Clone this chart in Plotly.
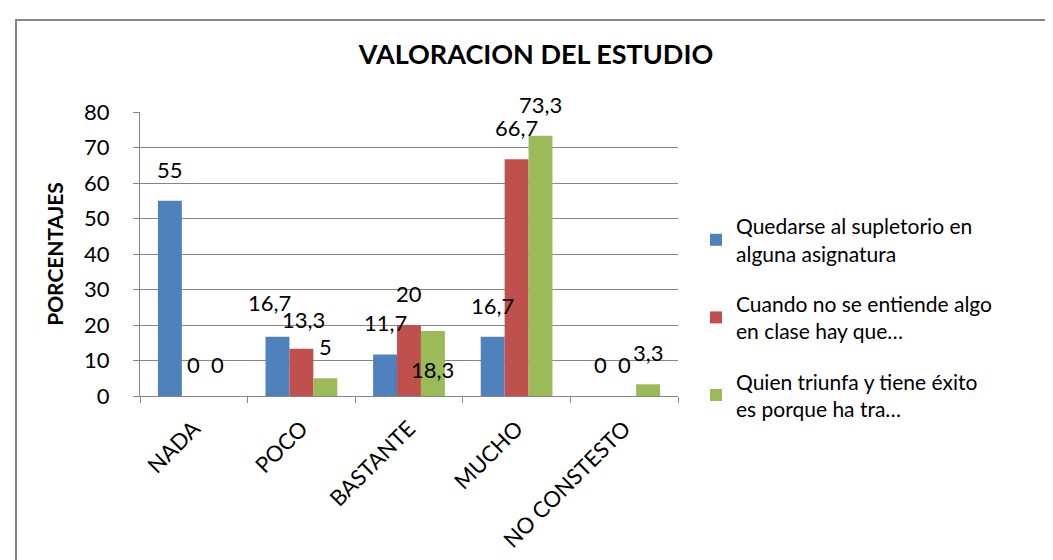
import plotly.graph_objects as go

categories = ["NADA", "POCO", "BASTANTE", "MUCHO", "NO CONSTESTO"]
series_names = [
    "Quedarse al supletorio en<br>alguna asignatura",
    "Cuando no se entiende algo<br>en clase hay que…",
    "Quien triunfa y tiene éxito<br>es porque ha tra…",
]
blue_vals = [55, 16.7, 11.7, 16.7, 0]
red_vals = [0, 13.3, 20, 66.7, 0]
green_vals = [0, 5, 18.3, 73.3, 3.3]
# label placement per point: "end" = above bar, "base" = inside at the base
label_pos = [
    ["end", "end", "end", "end", "end"],
    ["end", "end", "end", "end", "end"],
    ["end", "end", "base", "end", "end"],
]
# small nudges (px) of individual labels, as in the reference
label_nudge_x = [
    [0, -8, 0, 0, 0],
    [0, 2, 0, 0, 0],
    [0, 0, 0, 0, 0],
]
label_nudge_y = [
    [0, 3, 0, 0, 0],
    [0, -2, 0, 0, 0],
    [0, 0, 0, 0, 0],
]
colors = ["#4F81BD", "#C0504D", "#9BBB59"]
y_ticks = [0, 10, 20, 30, 40, 50, 60, 70, 80]

FONT = "Lato"

def fmt(v):
    s = ("%g" % v)
    return s.replace(".", ",")

W, H = 1053, 560
ml, mr, mt, mb = 132, 383, 104, 172
pw, ph = W - ml - mr, H - mt - mb
BARGAP = 0.333
bar_px = pw / len(categories) * (1 - BARGAP) / 3

fig = go.Figure()
all_vals = [blue_vals, red_vals, green_vals]
annotations = []
for i, (name, vals) in enumerate(zip(series_names, all_vals)):
    fig.add_trace(go.Bar(
        x=categories, y=vals, name=name,
        marker=dict(color=colors[i], line=dict(width=0)),
        legendgroup="g%d" % i, cliponaxis=False,
    ))
    for j, v in enumerate(vals):
        base = label_pos[i][j] == "base"
        annotations.append(dict(
            x=categories[j], y=0 if base else v, xref="x", yref="y",
            text=fmt(v), showarrow=False, yanchor="bottom",
            xshift=(i - 1) * bar_px + label_nudge_x[i][j],
            yshift=(11 if base else 16) + label_nudge_y[i][j],
            font=dict(family=FONT, size=22, color="#000000"),
        ))

fig.update_layout(
    width=W, height=H,
    margin=dict(l=ml, r=mr, t=mt, b=mb, autoexpand=False),
    paper_bgcolor="white", plot_bgcolor="white",
    barmode="group", bargap=BARGAP, bargroupgap=0,
    title=dict(text="<b>VALORACION DEL ESTUDIO</b>", x=528 / W, xanchor="center",
               y=1 - 47 / H, yanchor="middle",
               font=dict(family=FONT, size=27, color="#000000")),
    font=dict(family=FONT, size=21, color="#000000"),
    showlegend=True,
    legend=dict(x=(688 - ml) / pw, xanchor="left", y=(H - mb - 198) / ph, yanchor="top",
                traceorder="grouped", tracegroupgap=20,
                font=dict(family=FONT, size=21, color="#000000"),
                itemwidth=30, bgcolor="rgba(0,0,0,0)"),
    xaxis=dict(showline=True, linecolor="#868686", linewidth=1, automargin=False,
               ticks="outside", ticklen=6, tickcolor="#868686", tickson="boundaries",
               tickangle=-45, ticklabelstandoff=10,
               tickfont=dict(family=FONT, size=22, color="#000000"),
               showgrid=False),
    yaxis=dict(range=[0, 80], tickvals=y_ticks, showline=True, linecolor="#868686", linewidth=1,
               automargin=False,
               ticks="outside", ticklen=6, tickcolor="#868686", ticklabelstandoff=19,
               showgrid=True, gridcolor="#868686", gridwidth=1,
               tickfont=dict(family=FONT, size=22, color="#000000"),
               zeroline=False,
               title=dict(text="<b>PORCENTAJES</b>", standoff=14,
                          font=dict(family=FONT, size=21, color="#000000"))),
    annotations=annotations,
    shapes=[dict(type="rect", xref="paper", yref="paper",
                 x0=(8 - ml) / pw, x1=(W + 20 - ml) / pw,
                 y0=(H - mb - (H + 20)) / ph, y1=(H - mb - 12) / ph,
                 line=dict(color="#868686", width=2), fillcolor="rgba(0,0,0,0)", layer="below")],
)

fig.write_html("out.html")
